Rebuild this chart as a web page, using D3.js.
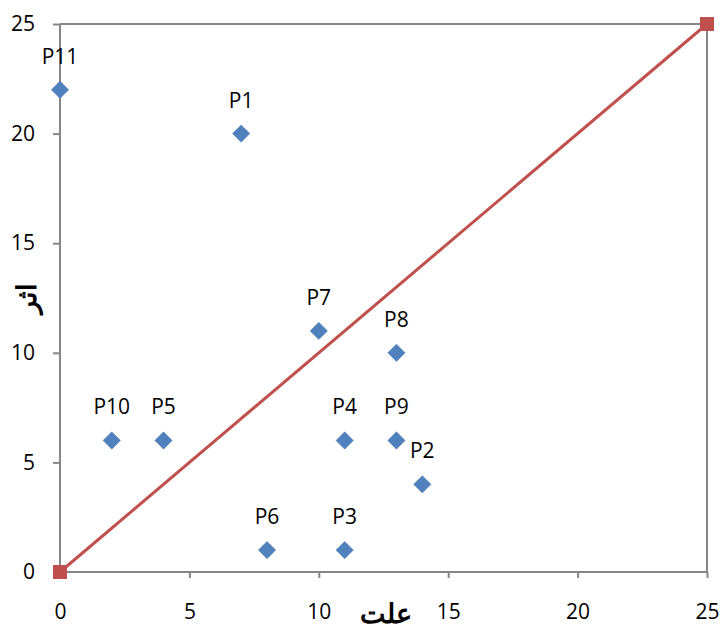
<!DOCTYPE html>
<html><head><meta charset="utf-8">
<script src="https://cdn.jsdelivr.net/npm/d3@7"></script>
<style>body{margin:0;background:#fff}text{font-family:"Open Sans","Noto Sans",sans-serif}</style>
</head><body>
<svg id="c" width="721" height="632"></svg>
<script>
const labels = ["P1","P2","P3","P4","P5","P6","P7","P8","P9","P10","P11"];
const causeVals = [7,14,11,11,4,8,10,13,13,2,0];
const effectVals = [20,4,1,6,6,1,11,10,6,6,22];
const lineX = [0,25];
const lineY = [0,25];
const ticks = [0,5,10,15,20,25];
const xTitle = "علت";
const yTitle = "اثر";

const svg = d3.select("#c");
const x = d3.scaleLinear().domain([0,25]).range([60,707]);
const y = d3.scaleLinear().domain([0,25]).range([572,24]);
const gray = "#868686";
const fs = 21;

// frame top and right
svg.append("line").attr("x1",x(0)).attr("x2",x(25)).attr("y1",y(25)).attr("y2",y(25)).attr("stroke",gray).attr("stroke-width",2);
svg.append("line").attr("x1",x(25)).attr("x2",x(25)).attr("y1",y(25)).attr("y2",y(0)).attr("stroke",gray).attr("stroke-width",2);

const xa = svg.append("g").attr("transform",`translate(0,${y(0)})`)
  .call(d3.axisBottom(x).tickValues(ticks).tickSize(6).tickPadding(26).tickFormat(d3.format("d")));
const ya = svg.append("g").attr("transform",`translate(${x(0)},0)`)
  .call(d3.axisLeft(y).tickValues(ticks).tickSize(7).tickPadding(18).tickFormat(d3.format("d")));
[xa,ya].forEach(a=>{
  a.selectAll("path,line").attr("stroke",gray).attr("stroke-width",2);
  a.select("path").attr("d", a===xa ? `M${x(0)},0H${x(25)}` : `M0,${y(0)}V${y(25)}`);
  a.selectAll("text").attr("font-size",fs).attr("fill","#000").attr("font-family","'Open Sans',sans-serif");
});

// diagonal line
const ld = lineX.map((v,i)=>[v,lineY[i]]);
svg.append("path").datum(ld)
  .attr("d",d3.line().x(d=>x(d[0])).y(d=>y(d[1])))
  .attr("stroke","#C0504D").attr("stroke-width",3).attr("fill","none");
svg.selectAll("rect.m").data(ld).join("rect").attr("class","m")
  .attr("x",d=>x(d[0])-7).attr("y",d=>y(d[1])-7).attr("width",14).attr("height",14)
  .attr("fill","#C0504D");

// points
const pts = labels.map((l,i)=>({l,cx:causeVals[i],cy:effectVals[i]}));
svg.selectAll("path.pt").data(pts).join("path").attr("class","pt")
  .attr("d",d3.symbol().type(d3.symbolSquare).size(150))
  .attr("transform",d=>`translate(${x(d.cx)},${y(d.cy)}) rotate(45)`)
  .attr("fill","#4F81BD").attr("stroke","#4A7EBB").attr("stroke-width",0.5);
svg.selectAll("text.pl").data(pts).join("text").attr("class","pl")
  .attr("x",d=>x(d.cx)).attr("y",d=>y(d.cy)-26)
  .attr("text-anchor","middle").attr("font-size",fs).attr("fill","#000").text(d=>d.l);

// titles
svg.append("text").attr("x",(x(0)+x(25))/2+2).attr("y",623).attr("text-anchor","middle")
  .attr("font-size",27).attr("font-weight","bold").attr("font-family","'DejaVu Sans',sans-serif").text(xTitle);
svg.append("text").attr("transform",`translate(36,${(y(0)+y(25))/2}) rotate(-90)`).attr("text-anchor","middle")
  .attr("font-size",27).attr("font-weight","bold").attr("font-family","'DejaVu Sans',sans-serif").text(yTitle);
</script>
</body></html>
